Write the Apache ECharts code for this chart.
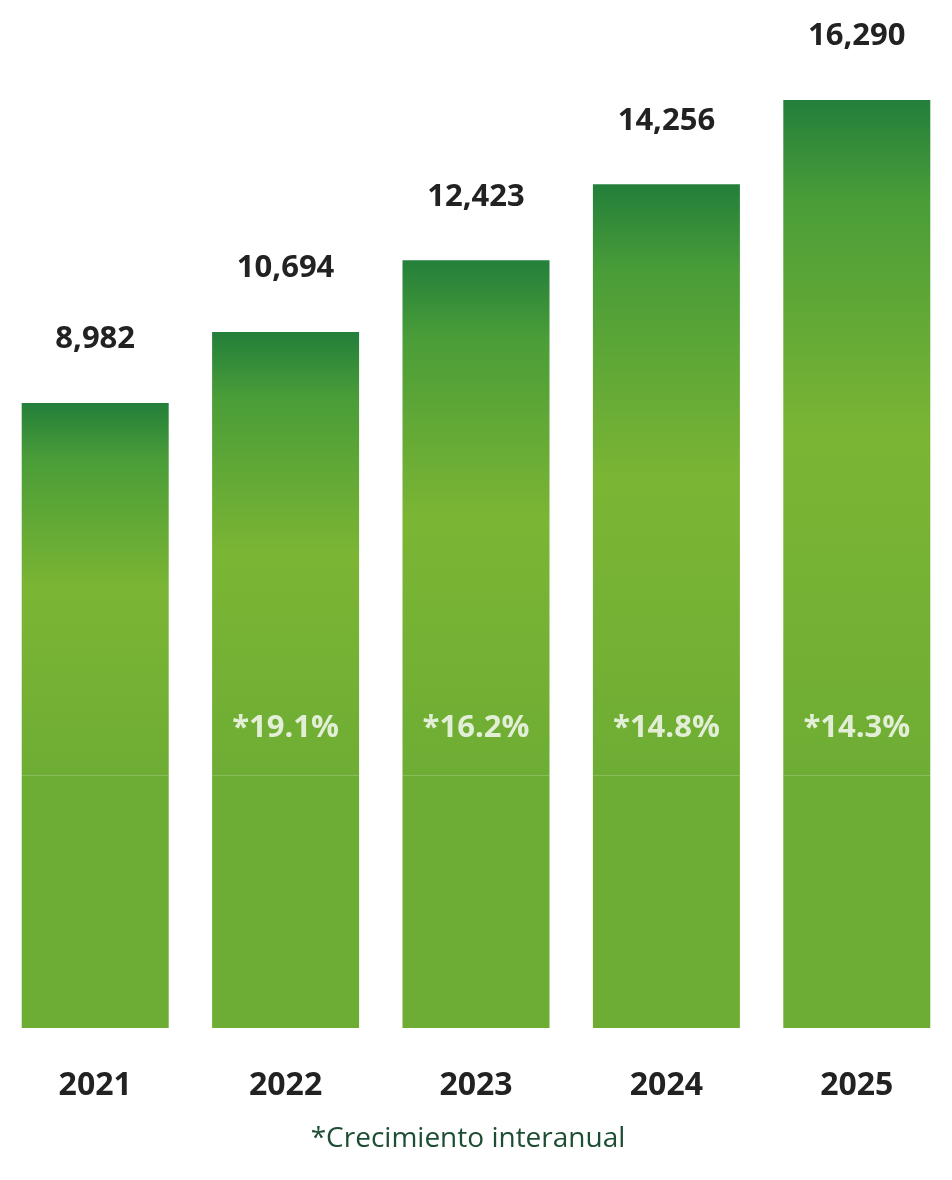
<!DOCTYPE html>
<html><head><meta charset="utf-8">
<script src="https://cdn.jsdelivr.net/npm/echarts@6/dist/echarts.min.js"></script>
<style>body{margin:0;background:#fff}#c{width:952px;height:1180px}</style>
</head><body><div id="c"></div>
<script>
var years = ['2021', '2022', '2023', '2024', '2025'];
var totals = [8982, 10694, 12423, 14256, 16290];
var growth = [null, 19.1, 16.2, 14.8, 14.3];

// visual offset so bars do not start at zero (the original scale is cut)
var base = 6100;
var labelLevel = 7240;

var font = '"Open Sans", "Noto Sans", sans-serif';
var baseColor = '#6ead34';
var paint = new echarts.graphic.LinearGradient(0, 0, 0, 1, [
  {offset: 0, color: '#237f3a'},
  {offset: 0.15, color: '#4a9d38'},
  {offset: 0.5, color: '#7bb534'},
  {offset: 1, color: baseColor}
]);

var chart = echarts.init(document.getElementById('c'));
chart.setOption({
  animation: false,
  title: {
    text: '*Crecimiento interanual',
    left: 463, textAlign: 'center', top: 1120,
    textStyle: {fontFamily: font, fontSize: 28, fontWeight: 'normal', color: '#1d4d33'}
  },
  grid: {left: -4, width: 960, top: 100, bottom: 152},
  xAxis: {
    type: 'category', data: years,
    axisLine: {show: false}, axisTick: {show: false},
    axisLabel: {margin: 42, fontFamily: font, fontSize: 32, fontWeight: 'bold', color: '#222'}
  },
  yAxis: {type: 'value', min: 0, max: base + totals[4], show: false, splitLine: {show: false}},
  series: [
    {
      type: 'bar', stack: 'a', barWidth: 147,
      data: years.map(function(){ return base; }),
      itemStyle: {color: baseColor}
    },
    {
      type: 'bar', stack: 'a', barWidth: 147,
      data: totals,
      itemStyle: {color: paint},
      label: {
        show: true, position: 'top', distance: 48,
        fontFamily: font, fontSize: 31, fontWeight: 'bold', color: '#222',
        formatter: function(p){ return p.value.toLocaleString('en-US'); }
      }
    },
    {
      type: 'scatter', symbolSize: 0, z: 5,
      data: growth.map(function(g){ return g == null ? null : labelLevel; }),
      label: {
        show: true, position: 'inside',
        fontFamily: font, fontSize: 31, fontWeight: 'bold', color: '#ffffff',
        formatter: function(p){ return '*' + growth[p.dataIndex].toFixed(1) + '%'; }
      }
    }
  ]
});
</script></body></html>
